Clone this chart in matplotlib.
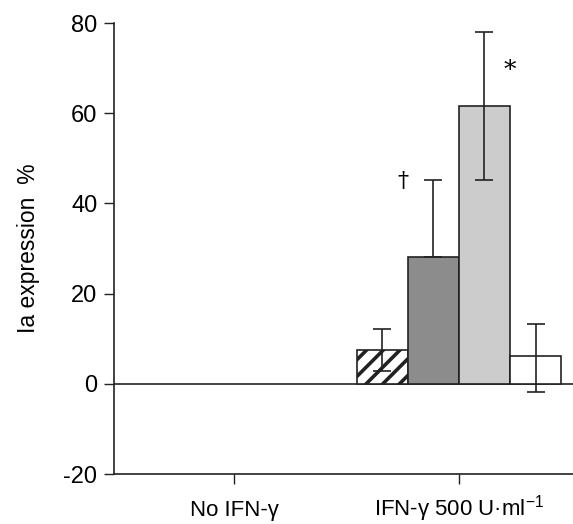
import matplotlib.pyplot as plt
import numpy as np

plt.rcParams['font.family'] = ['Liberation Sans', 'DejaVu Sans']
plt.rcParams['mathtext.fontset'] = 'custom'
plt.rcParams['mathtext.rm'] = 'Liberation Sans'
plt.rcParams['axes.unicode_minus'] = False
plt.rcParams['hatch.linewidth'] = 2.6

groups = ['No IFN-γ', 'IFN-γ 500 U·ml$^{-1}$']
# four treatments, only the IFN-γ group has bars
means = [7.5, 28.2, 61.7, 6.1]
err_low = [4.7, 0.0, 16.4, 7.9]
err_high = [4.7, 17.1, 16.3, 7.2]
fills = ['white', '#8c8c8c', '#cccccc', 'white']
hatches = ['//', None, None, None]
marks = ['', '†', '*', '']

line = '#222222'
width = 0.227

fig = plt.figure(figsize=(5.73, 5.24), dpi=100)
ax = fig.add_axes([0.199, 0.0954, 0.801, 0.8606])

offsets = (np.arange(4) - 1.5) * width
for i in range(4):
    x = 1 + offsets[i]
    ax.bar(x, means[i], width=width, color=fills[i], edgecolor=line,
           linewidth=1.2, hatch=hatches[i], zorder=2)
    ax.errorbar(x, means[i], yerr=[[err_low[i]], [err_high[i]]], fmt='none',
                ecolor=line, elinewidth=1.2, capsize=6.3, capthick=1.2, zorder=3)

ax.text(1 + offsets[1] - 0.135, 45, marks[1], ha='center', va='center',
        fontsize=16, family='DejaVu Serif')
ax.text(1 + offsets[2] + 0.113, 69.5, marks[2], ha='center', va='center',
        fontsize=18, family='DejaVu Serif')

ax.axhline(0, color=line, linewidth=1.2, zorder=1)

ax.set_xlim(-0.533, 1.507)
ax.set_ylim(-20, 80)
ax.set_yticks([-20, 0, 20, 40, 60, 80])
ax.set_xticks([0, 1])
ax.set_xticklabels(groups)
ax.set_ylabel('Ia expression  %', fontsize=16.5, labelpad=17)

ax.spines['top'].set_visible(False)
ax.spines['right'].set_visible(False)
for s in ['left', 'bottom']:
    ax.spines[s].set_color(line)
    ax.spines[s].set_linewidth(1.2)
ax.tick_params(axis='y', length=7, width=1, color=line, labelsize=17, pad=5)
ax.tick_params(axis='x', length=7, width=1, color=line, labelsize=16, pad=23)
for lbl in ax.get_xticklabels():
    lbl.set_verticalalignment('baseline')

plt.savefig('out.png', dpi=100)
